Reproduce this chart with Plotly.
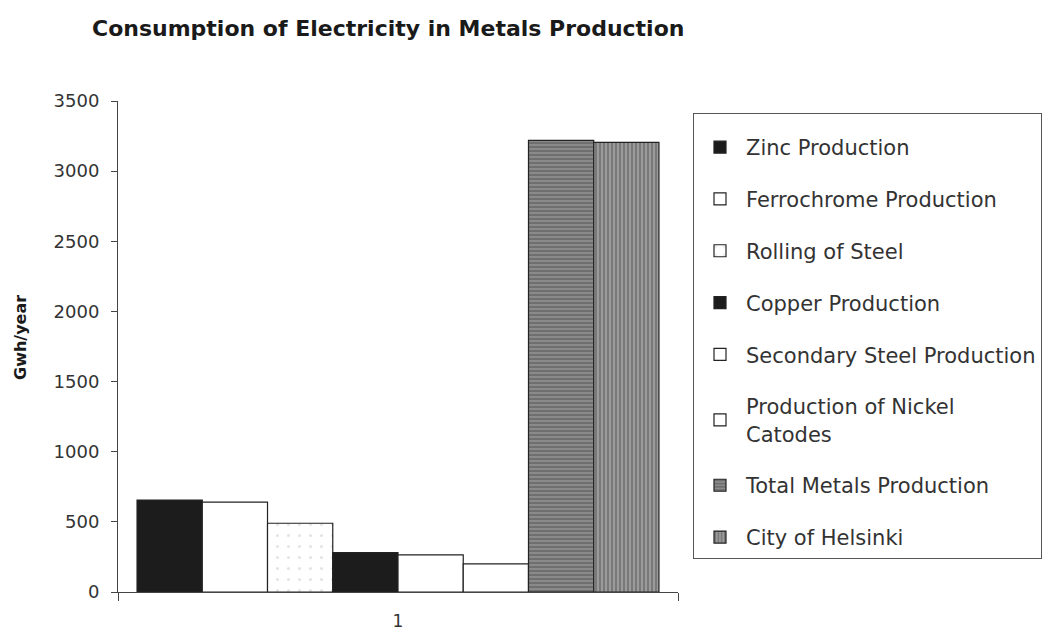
import plotly.graph_objects as go

categories = ["1"]
series_names = [
    "Zinc Production",
    "Ferrochrome Production",
    "Rolling of Steel",
    "Copper Production",
    "Secondary Steel Production",
    "Production of Nickel<br>Catodes",
    "Total Metals Production",
    "City of Helsinki",
]
series_values = [655, 640, 490, 280, 265, 200, 3220, 3205]
fill_colors = ["#1c1c1c", "#ffffff", "#ffffff", "#1c1c1c", "#ffffff", "#ffffff", "#8a8a8a", "#9a9a9a"]
pattern_shapes = ["", "", ".", "", "", "", "-", "|"]

FONT = "DejaVu Sans"
OFF = 8  # page body margin

# plot area in page pixels (from reference)
PL, PR, PT, PB = 118, 678, 101, 592
W, H = 1054, 631

fig = go.Figure()
for i, (name, val) in enumerate(zip(series_names, series_values)):
    pat = dict(shape=pattern_shapes[i])
    if pattern_shapes[i] in ("-", "|"):
        pat.update(fgcolor="#3a3a3a", bgcolor=fill_colors[i], size=4, solidity=0.35, fillmode="overlay")
    elif pattern_shapes[i] == ".":
        pat.update(fgcolor="#c8c8c8", bgcolor="#ffffff", size=11, solidity=0.06, fillmode="overlay")
    fig.add_trace(go.Bar(
        x=categories, y=[val], name=name,
        marker=dict(color=fill_colors[i], line=dict(color="#222222", width=1.2), pattern=pat),
        legendgroup=f"g{i}",
    ))

fig.update_layout(
    width=W, height=H,
    paper_bgcolor="white", plot_bgcolor="white",
    barmode="group", bargap=0.068, bargroupgap=0,
    margin=dict(l=PL - OFF, r=W - (PR - OFF), t=PT - OFF, b=H - (PB - OFF), autoexpand=False),
    font=dict(family=FONT, size=17, color="#333333"),
    title=dict(text="<b>Consumption of Electricity in Metals Production</b>",
               x=(92 - OFF) / W, xanchor="left", xref="container",
               y=1 - (28 - OFF) / H, yanchor="middle", yref="container",
               font=dict(family=FONT, size=22, color="#1a1a1a")),
    legend=dict(x=(693 - PL) / (PR - PL), xanchor="left", y=(PB - 113) / (PB - PT), yanchor="top",
                bordercolor="#555555", borderwidth=1, bgcolor="white",
                font=dict(family=FONT, size=21, color="#333333"),
                title=dict(text=" ", font=dict(size=10)),
                tracegroupgap=21.5, itemwidth=42),
    showlegend=True,
    annotations=[dict(text="<b>Gwh/year</b>", textangle=-90, showarrow=False,
                      xref="paper", yref="paper",
                      x=(20 - PL) / (PR - PL), y=(PB - 338) / (PB - PT),
                      xanchor="center", yanchor="middle",
                      font=dict(family=FONT, size=16, color="#1a1a1a"))],
)
fig.update_xaxes(showline=True, linecolor="#444444", linewidth=1,
                 ticks="outside", tickson="boundaries", ticklen=8, tickcolor="#444444",
                 showgrid=False, ticklabelstandoff=14,
                 tickfont=dict(size=17, color="#333333"))
fig.update_yaxes(range=[0, 3500], dtick=500, showline=True, linecolor="#444444", linewidth=1,
                 ticks="outside", ticklen=6, tickcolor="#444444", showgrid=False,
                 ticklabelstandoff=8, zeroline=False,
                 tickfont=dict(size=18, color="#333333"))

fig.write_html("out.html")
